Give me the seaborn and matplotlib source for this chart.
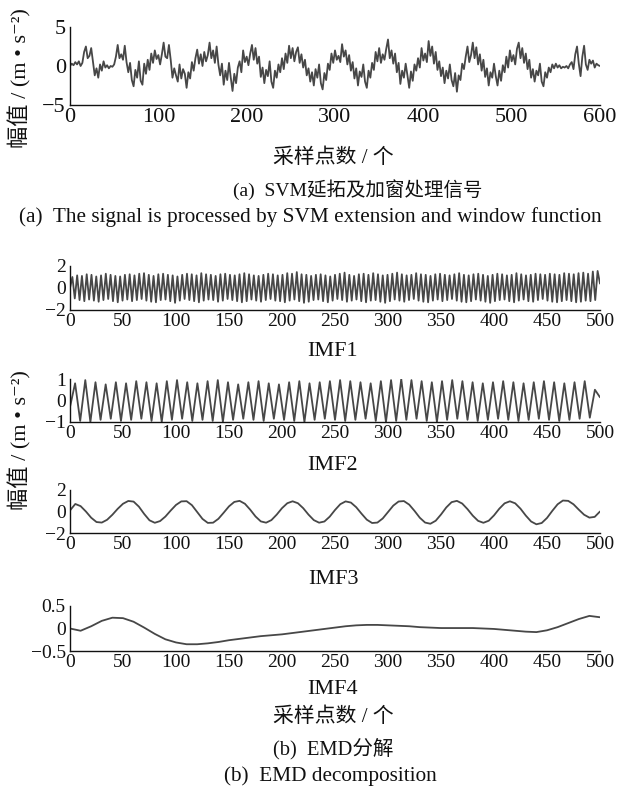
import numpy as np
import pandas as pd
import matplotlib
matplotlib.use("Agg")
import matplotlib.pyplot as plt
import seaborn as sns

# ---------------- data ----------------
# (a) windowed signal, one value every 2 samples, samples 0..600
signal_vals = [
    0.0, 0.3, 0.1, 0.5, 0.2, 0.6, 0.0, 0.4, 1.8, 2.5, 1.0, 1.3, 2.3, 0.5, -1.2, -0.3, -1.5, 0.2, -0.6, 0.6, -0.2, 0.1, -0.3, 0.0, -0.1,
    0.2, 1.2, 2.7, 1.0, 1.5, 0.8, 2.6, 0.5, -0.8, 0.4, -1.8, -2.6, -0.5, -1.5, 0.6, -1.9, -2.4, 0.3, -1.0, 0.8, -0.5, 1.6, 0.4, 2.0, 0.9,
    1.4, 0.2, 1.5, 3.0, 1.2, 1.0, 2.7, 0.8, -1.5, -0.3, -1.2, -2.0, 0.2, -1.6, -0.4, -1.0, -2.8, -0.8, -1.6, 0.5, -0.6, 1.0, 2.1, 0.3, 1.5,
    0.0, 1.8, 0.6, 1.4, 3.0, 1.0, 2.0, 0.4, 2.5, 0.2, -1.2, 0.3, -2.4, -0.6, -1.8, 0.4, -1.5, -3.2, -1.0, -2.2, -0.2, 0.6, -0.8, 2.0, 0.5,
    1.2, 0.1, 1.6, 2.7, 0.8, 2.3, 0.3, 1.2, -1.4, -0.2, -2.2, -0.5, -1.3, 0.6, -2.0, -2.8, -0.6, -1.5, 0.2, -0.8, 1.0, -0.4, 1.6, 0.4, 2.6,
    1.0, 2.3, 0.6, 1.8, 2.4, 0.4, 1.5, -0.2, 0.8, -1.2, -0.3, -2.0, -0.8, -2.5, -0.4, -1.5, 0.2, -2.2, -3.0, -0.9, -1.8, 0.3, -0.5, 1.6, 0.4,
    2.0, 0.8, 1.3, 0.5, 2.8, 1.2, 2.0, 0.2, 1.4, -0.6, 0.5, -1.6, -0.3, -2.5, -0.7, -1.4, 0.2, -2.0, -2.8, -0.6, -1.5, 0.4, -0.5, 1.8, 0.6,
    2.3, 0.4, 1.5, 0.8, 2.2, 3.4, 1.0, 2.0, 0.3, 1.6, -0.8, 0.4, -2.3, -0.6, -1.5, 0.3, -1.2, -2.8, -0.7, -1.9, 0.2, -0.6, 1.0, -0.2, 2.3,
    0.7, 1.6, 0.5, 3.2, 1.3, 2.5, 0.3, 1.8, -0.5, 0.6, -1.3, -0.2, -2.2, -0.6, -1.6, 0.2, -1.8, -2.6, -0.9, -3.3, -1.2, -1.8, 0.3, -0.4, 1.2,
    2.5, 0.5, 1.4, 3.0, 1.0, 2.4, 0.2, 1.5, -0.6, 0.8, -1.4, -0.3, -2.5, -0.8, -1.5, 0.3, -1.3, -2.5, -0.6, -1.9, 0.1, -0.8, 1.2, -0.2, 2.0,
    0.6, 1.4, 0.2, 2.2, 3.0, 1.0, 2.3, 0.4, 1.6, -0.4, 0.8, -1.5, -0.4, -2.0, -0.6, -1.2, 0.3, -2.0, -2.6, -0.8, -1.5, -0.2, -0.8, 0.2, -0.3,
    0.3, -0.2, 0.1, -0.3, -0.1, -0.2, 0.0, -0.3, 0.2, 0.5, -0.4, 1.5, 2.5, 0.3, -1.3, 1.2, 2.6, 0.2, -0.5, 0.8, 0.3, 0.7, -0.2, 0.3, 0.1,
    0.0,
]
signal_step = 2

# IMF1: start value, alternating peaks / troughs, end value
imf1_start, imf1_end = 0.0, 0.4
imf1_peaks = [
    1.00, 1.15, 1.10, 1.25, 1.20, 1.05, 1.15, 1.30, 1.20, 1.10,
    1.05, 1.20, 1.25, 1.15, 1.30, 1.35, 1.20, 1.10, 1.25, 1.30,
    1.20, 1.15, 1.05, 1.20, 1.30, 1.25, 1.15, 1.35, 1.25, 1.20,
    1.10, 1.25, 1.30, 1.20, 1.15, 1.25, 1.35, 1.25, 1.15, 1.10,
    1.20, 1.30, 1.25, 1.15, 1.20, 1.35, 1.30, 1.45, 1.25, 1.20,
    1.10, 1.20, 1.25, 1.15, 1.05, 1.20, 1.30, 1.40, 1.20, 1.10,
    1.25, 1.30, 1.20, 1.35, 1.25, 1.15, 1.20, 1.30, 1.40, 1.25,
    1.15, 1.20, 1.35, 1.25, 1.20, 1.10, 1.25, 1.30, 1.20, 1.15,
    1.25, 1.35, 1.20, 1.15, 1.25, 1.30, 1.20, 1.10, 1.20, 1.30,
    1.25, 1.15, 1.20, 1.35, 1.25, 1.15, 1.20, 1.30, 1.25, 1.20,
    1.30, 1.25, 1.20, 1.35, 1.30, 1.25, 1.35, 1.40, 1.30, 1.50, 1.55,
]
imf1_troughs = [
    -0.95, -1.10, -1.20, -1.05, -1.15, -1.25, -1.10, -1.00, -1.20, -1.30,
    -1.15, -1.05, -1.20, -1.10, -1.00, -1.15, -1.25, -1.30, -1.10, -1.05,
    -1.20, -1.35, -1.15, -1.00, -1.10, -1.20, -1.30, -1.15, -1.05, -1.10,
    -1.25, -1.15, -1.00, -1.10, -1.20, -1.30, -1.20, -1.05, -1.15, -1.25,
    -1.10, -1.00, -1.15, -1.20, -1.30, -1.15, -1.05, -1.20, -1.35, -1.25,
    -1.10, -1.05, -1.20, -1.30, -1.15, -1.00, -1.10, -1.25, -1.15, -1.05,
    -1.20, -1.30, -1.15, -1.10, -1.25, -1.35, -1.20, -1.05, -1.15, -1.25,
    -1.10, -1.00, -1.15, -1.25, -1.30, -1.15, -1.05, -1.20, -1.10, -1.00,
    -1.15, -1.25, -1.30, -1.20, -1.05, -1.15, -1.25, -1.35, -1.20, -1.10,
    -1.05, -1.20, -1.30, -1.15, -1.05, -1.20, -1.25, -1.10, -1.00, -1.15,
    -1.25, -1.30, -1.20, -1.10, -1.20, -1.30, -1.25, -1.15, -1.20, -1.10,
]

# IMF2: start value, alternating peaks / troughs, end value
imf2_start, imf2_end = -0.30, 0.15
imf2_peaks = [
    0.80, 0.95, 0.85, 0.75, 0.85, 0.80, 0.90, 0.85, 0.80, 0.90,
    0.95, 0.85, 0.80, 0.90, 0.95, 0.85, 0.75, 0.85, 0.90, 0.80,
    0.75, 0.85, 0.90, 0.80, 0.85, 0.90, 0.95, 0.90, 0.85, 0.80,
    0.90, 0.95, 1.00, 0.95, 0.90, 0.85, 0.90, 0.95, 0.90, 0.85,
    0.80, 0.85, 0.90, 0.85, 0.80, 0.85, 0.90, 0.85, 0.80, 0.85,
    0.90, 0.50,
]
imf2_troughs = [
    -0.95, -1.00, -0.90, -0.85, -0.95, -0.90, -0.85, -0.95, -1.00, -0.90,
    -0.85, -0.95, -0.90, -0.95, -1.00, -0.90, -0.85, -0.90, -0.95, -0.85,
    -0.90, -0.95, -1.00, -0.90, -0.85, -0.90, -0.95, -0.90, -0.85, -0.95,
    -1.00, -0.95, -0.90, -0.85, -0.95, -1.00, -0.90, -0.85, -0.90, -0.95,
    -0.90, -0.85, -0.90, -0.95, -0.90, -0.85, -0.90, -0.95, -0.90, -0.85,
    -0.80,
]

# IMF3: one value every 5 samples, 0..500
imf3_vals = [
    0.10, 0.70, 0.50, 0.00, -0.58, -0.98, -1.03, -0.77, -0.30, 0.25,
    0.72, 0.98, 0.92, 0.45, -0.23, -0.82, -1.05, -0.89, -0.47, 0.09,
    0.61, 0.94, 0.96, 0.59, -0.05, -0.69, -1.06, -1.04, -0.68, -0.11,
    0.48, 0.89, 0.99, 0.72, 0.17, -0.46, -0.92, -1.04, -0.80, -0.29,
    0.31, 0.77, 0.95, 0.77, 0.31, -0.29, -0.80, -1.04, -0.93, -0.48,
    0.14, 0.68, 0.94, 0.83, 0.40, -0.20, -0.76, -1.07, -1.03, -0.65,
    -0.05, 0.55, 0.93, 0.97, 0.64, 0.06, -0.58, -1.03, -1.14, -0.86,
    -0.28, 0.38, 0.87, 0.99, 0.74, 0.22, -0.39, -0.87, -1.05, -0.86,
    -0.36, 0.26, 0.76, 0.95, 0.76, 0.26, -0.38, -0.93, -1.19, -1.07,
    -0.60, 0.06, 0.67, 1.02, 0.99, 0.67, 0.17, -0.30, -0.57, -0.50, 0.00,
]
imf3_step = 5

# IMF4: one value every 10 samples, 0..500
imf4_vals = [
    0.00, -0.05, 0.05, 0.17, 0.24, 0.23, 0.15, 0.02, -0.12, -0.24, -0.31,
    -0.35, -0.35, -0.33, -0.30, -0.26, -0.23, -0.20, -0.17, -0.15, -0.13,
    -0.10, -0.07, -0.04, -0.01, 0.02, 0.05, 0.07, 0.08, 0.08, 0.07,
    0.06, 0.05, 0.03, 0.02, 0.01, 0.01, 0.01, 0.01, 0.00, -0.01,
    -0.03, -0.05, -0.07, -0.08, -0.04, 0.03, 0.12, 0.21, 0.28, 0.25,
]
imf4_step = 10

imf_names = ["IMF1", "IMF2", "IMF3", "IMF4"]
top_xticks = [0, 100, 200, 300, 400, 500, 600]
imf_xticks = [0, 50, 100, 150, 200, 250, 300, 350, 400, 450, 500]
ylims = {"sig": (-5, 5), "IMF1": (-2, 2), "IMF2": (-1, 1), "IMF3": (-2, 2), "IMF4": (-0.5, 0.5)}
ytick_labels = {
    "sig": ["\u22125", "0", "5"],
    "IMF1": ["\u22122", "0", "2"],
    "IMF2": ["\u22121", "0", "1"],
    "IMF3": ["\u22122", "0", "2"],
    "IMF4": ["\u22120.5", "0", "0.5"],
}
ylabel_text = "幅值 / (m • s\u207b\u00b2)"
xlabel_text = "采样点数 / 个"
caption_a_cn = "(a)  SVM延拓及加窗处理信号"
caption_a_en = "(a)  The signal is processed by SVM extension and window function"
caption_b_cn = "(b)  EMD分解"
caption_b_en = "(b)  EMD decomposition"


def alternate(start, peaks, troughs, end):
    seq = [start]
    for i, p in enumerate(peaks):
        seq.append(p)
        if i < len(troughs):
            seq.append(troughs[i])
    seq.append(end)
    return np.array(seq)


# ---------------- build frames ----------------
sig_df = pd.DataFrame({"x": np.arange(len(signal_vals)) * signal_step, "y": signal_vals})
imf1_y = alternate(imf1_start, imf1_peaks, imf1_troughs, imf1_end)
imf2_y = alternate(imf2_start, imf2_peaks, imf2_troughs, imf2_end)
imf_dfs = {
    "IMF1": pd.DataFrame({"x": np.linspace(0, 500, len(imf1_y)), "y": imf1_y}),
    "IMF2": pd.DataFrame({"x": np.linspace(0, 500, len(imf2_y)), "y": imf2_y}),
    "IMF3": pd.DataFrame({"x": np.arange(len(imf3_vals)) * imf3_step, "y": imf3_vals}),
    "IMF4": pd.DataFrame({"x": np.arange(len(imf4_vals)) * imf4_step, "y": imf4_vals}),
}

# ---------------- style ----------------
sns.set_theme(style="white")
plt.rcParams["font.family"] = ["Liberation Serif", "Noto Sans CJK SC", "DejaVu Sans"]
plt.rcParams["axes.unicode_minus"] = True

W, H = 618, 795
fig = plt.figure(figsize=(W / 100, H / 100), dpi=100)
fig.patch.set_facecolor("white")

LINE_COLOR = "#474747"


def make_axes(top, bottom, left=70, right=600):
    return fig.add_axes([left / W, 1 - bottom / H, (right - left) / W, (bottom - top) / H])


def style(ax, key, xticks, xmax, fs):
    ax.set_facecolor("white")
    for s in ["top", "right"]:
        ax.spines[s].set_visible(False)
    for s in ["left", "bottom"]:
        ax.spines[s].set_color("#111111")
        ax.spines[s].set_linewidth(1.0)
    lo, hi = ylims[key]
    ax.set_ylim(lo, hi)
    ax.set_xlim(0, xmax)
    ax.set_yticks([lo, 0, hi])
    ax.set_yticklabels(ytick_labels[key])
    ax.set_xticks(xticks)
    ax.set_xticklabels([str(t) for t in xticks])
    ax.tick_params(axis="both", direction="in", length=4, width=1.0, color="#111111",
                   labelsize=fs, labelcolor="#111111", pad=2)
    ax.tick_params(axis="y", pad=3)
    ax.set_xlabel("")
    ax.set_ylabel("")
    ax.grid(False)


# top signal
ax0 = make_axes(27, 105)
sns.lineplot(data=sig_df, x="x", y="y", ax=ax0, color=LINE_COLOR, linewidth=1.3)
style(ax0, "sig", top_xticks, 600, 16)

# IMFs
imf_pos = {"IMF1": (266, 310), "IMF2": (379, 422), "IMF3": (490, 533), "IMF4": (606, 651)}
for name in imf_names:
    t, b = imf_pos[name]
    ax = make_axes(t, b)
    sns.lineplot(data=imf_dfs[name], x="x", y="y", ax=ax, color=LINE_COLOR, linewidth=1.3)
    style(ax, name, imf_xticks, 500, 14)


# ---------------- texts ----------------
def ftext(x, y, s, size, **kw):
    fig.text(x / W, 1 - y / H, s, fontsize=size, ha="center", va="center", color="#111111", **kw)


ftext(333, 158, xlabel_text, 15)
ftext(358, 190, caption_a_cn, 14)
ftext(310, 217, caption_a_en, 15.3)

ftext(333, 352, "IMF1", 16)
ftext(333, 466, "IMF2", 16)
ftext(333, 579, "IMF3", 16)
ftext(333, 690, "IMF4", 16)
ftext(333, 717, xlabel_text, 15)
ftext(333, 749, caption_b_cn, 14.8)
ftext(330, 776, caption_b_en, 15.3)

ftext(20, 78, ylabel_text, 16, rotation=90)
ftext(20, 440, ylabel_text, 16, rotation=90)

fig.savefig("out.png", dpi=100, facecolor="white")
